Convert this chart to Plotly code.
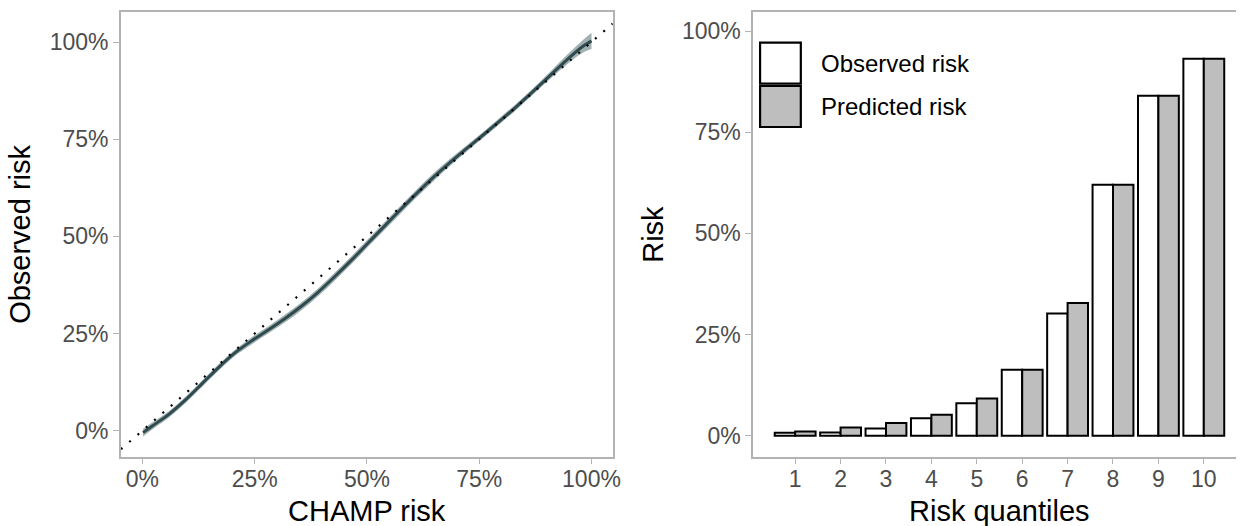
import plotly.graph_objects as go

# ---------------- data ----------------
# Left panel: calibration curve (CHAMP predicted risk vs observed risk)
champ_risk = [0.0015, 0.022, 0.059, 0.096, 0.133, 0.170, 0.206, 0.243, 0.280, 0.317,
              0.354, 0.391, 0.428, 0.465, 0.501, 0.538, 0.575, 0.612, 0.649, 0.686,
              0.723, 0.760, 0.796, 0.833, 0.870, 0.907, 0.944, 0.981, 1.0]
observed_risk = [-0.005, 0.012, 0.042, 0.079, 0.121, 0.163, 0.200, 0.231, 0.259, 0.288,
                 0.320, 0.356, 0.396, 0.438, 0.481, 0.525, 0.569, 0.612, 0.653, 0.691,
                 0.727, 0.762, 0.797, 0.834, 0.873, 0.913, 0.953, 0.989, 1.003]
ci_halfwidth = [0.010, 0.009, 0.008, 0.008, 0.008, 0.008, 0.008, 0.009, 0.009, 0.010,
                0.010, 0.010, 0.010, 0.010, 0.010, 0.010, 0.010, 0.010, 0.010, 0.009,
                0.008, 0.008, 0.008, 0.008, 0.008, 0.009, 0.012, 0.016, 0.021]

# Right panel: risk by quantile
quantiles = [1, 2, 3, 4, 5, 6, 7, 8, 9, 10]
obs_by_q = [0.007, 0.008, 0.018, 0.043, 0.080, 0.163, 0.302, 0.620, 0.840, 0.932]
pred_by_q = [0.010, 0.020, 0.031, 0.052, 0.092, 0.163, 0.328, 0.620, 0.840, 0.932]

pct_ticks = [0, 0.25, 0.5, 0.75, 1.0]
pct_labels = ["0%", "25%", "50%", "75%", "100%"]

# ---------------- style ----------------
FONT = "Liberation Sans, Arial, Helvetica, sans-serif"
TICK_COL = "#4d4d4d"
FRAME_COL = "#b3b3b3"
LINE_COL = "#2f4b4f"
RIBBON_COL = "rgba(47,79,79,0.45)"
GREY_FILL = "#bebebe"

W, H = 1244, 526
top_px, bot_px = 11.7, 456.7
ydom = [1 - bot_px / H, 1 - top_px / H]

fig = go.Figure()

lower = [o - h for o, h in zip(observed_risk, ci_halfwidth)]
upper = [o + h for o, h in zip(observed_risk, ci_halfwidth)]
fig.add_trace(go.Scatter(x=champ_risk, y=lower, mode="lines", line=dict(width=0, color=RIBBON_COL, shape="spline"),
                         showlegend=False, hoverinfo="skip", xaxis="x", yaxis="y"))
fig.add_trace(go.Scatter(x=champ_risk, y=upper, mode="lines", line=dict(width=0, color=RIBBON_COL, shape="spline"),
                         fill="tonexty", fillcolor=RIBBON_COL, showlegend=False, hoverinfo="skip",
                         xaxis="x", yaxis="y"))
fig.add_trace(go.Scatter(x=champ_risk, y=observed_risk, mode="lines",
                         line=dict(width=3, color=LINE_COL, shape="spline", smoothing=0.8),
                         showlegend=False, xaxis="x", yaxis="y"))

xr_left = [-0.0478, 1.0473]
fig.add_trace(go.Scatter(x=xr_left, y=xr_left, mode="lines",
                         line=dict(color="black", width=2.2, dash="2px,9px"),
                         showlegend=False, hoverinfo="skip", xaxis="x", yaxis="y"))

fig.add_trace(go.Bar(x=quantiles, y=obs_by_q, name="Observed risk",
                     marker=dict(color="white", line=dict(color="black", width=2)),
                     xaxis="x2", yaxis="y2", showlegend=False))
fig.add_trace(go.Bar(x=quantiles, y=pred_by_q, name="Predicted risk",
                     marker=dict(color=GREY_FILL, line=dict(color="black", width=2)),
                     xaxis="x2", yaxis="y2", showlegend=False))

axis_common = dict(showgrid=False, zeroline=False, showline=True, linecolor=FRAME_COL, linewidth=1.5,
                   ticks="outside", ticklen=6, tickwidth=1.3, tickcolor=FRAME_COL,
                   tickfont=dict(family=FONT, size=23, color=TICK_COL))

fig.update_layout(
    width=W, height=H, autosize=False,
    margin=dict(l=0, r=0, t=0, b=0),
    paper_bgcolor="white", plot_bgcolor="white",
    barmode="group", bargap=0.1, bargroupgap=0,
    xaxis=dict(domain=[121.7 / W, 616.7 / W], range=xr_left, tickvals=pct_ticks, ticktext=pct_labels,
               mirror=True, anchor="y", ticklabelstandoff=-5, **axis_common),
    yaxis=dict(domain=ydom, range=[-0.067, 1.078], tickvals=pct_ticks, ticktext=pct_labels,
               mirror=True, anchor="x", **axis_common),
    xaxis2=dict(domain=[758 / W, 1.0], range=[0.074, 10.709], tickvals=quantiles,
                ticktext=[str(q) for q in quantiles], mirror=True, anchor="y2", ticklabelstandoff=-5,
                **axis_common),
    yaxis2=dict(domain=ydom, range=[-0.052, 1.048], tickvals=pct_ticks, ticktext=pct_labels,
                mirror=False, anchor="x2", **axis_common),
    showlegend=False,
)

# axis titles
title_font = dict(family=FONT, size=29, color="black")
title_y = 1 - 511 / H
fig.add_annotation(text="CHAMP risk", xref="x", yref="paper", x=0.5, y=title_y,
                   xanchor="center", yanchor="middle", showarrow=False, font=title_font)
fig.add_annotation(text="Risk quantiles", xref="x2", yref="paper", x=5.5, y=title_y,
                   xanchor="center", yanchor="middle", showarrow=False, font=title_font)
fig.add_annotation(text="Observed risk", xref="paper", yref="paper", x=20 / W, y=1 - 234 / H,
                   textangle=-90, xanchor="center", yanchor="middle", showarrow=False, font=title_font)
fig.add_annotation(text="Risk", xref="paper", yref="paper", x=657 / W, y=1 - 234 / H,
                   textangle=-90, xanchor="center", yanchor="middle", showarrow=False, font=title_font)

# manual legend (large keys as in the reference)
legend_items = [("Observed risk", "white"), ("Predicted risk", GREY_FILL)]
key_x0, key_x1 = (765 - 758) / 486, (806 - 758) / 486
key_tops = [42.7, 86.0]
key_h = 41.0
plot_h = bot_px - top_px
for (label, col), ktop in zip(legend_items, key_tops):
    y1 = (bot_px - ktop) / plot_h
    y0 = (bot_px - ktop - key_h) / plot_h
    fig.add_shape(type="rect", xref="x2 domain", yref="y2 domain", x0=key_x0, x1=key_x1, y0=y0, y1=y1,
                  fillcolor=col, line=dict(color="black", width=2.2))
    fig.add_annotation(text=label, xref="x2 domain", yref="y2 domain", x=(824 - 758) / 486,
                       y=(y0 + y1) / 2, xanchor="left", yanchor="middle", showarrow=False,
                       font=dict(family=FONT, size=24, color="black"))

fig.write_html(
    "out.html",
    config={"displayModeBar": False, "responsive": False},
    post_script="document.body.style.margin='0';document.documentElement.style.overflow='hidden';"
                "document.body.style.overflow='hidden';",
)
